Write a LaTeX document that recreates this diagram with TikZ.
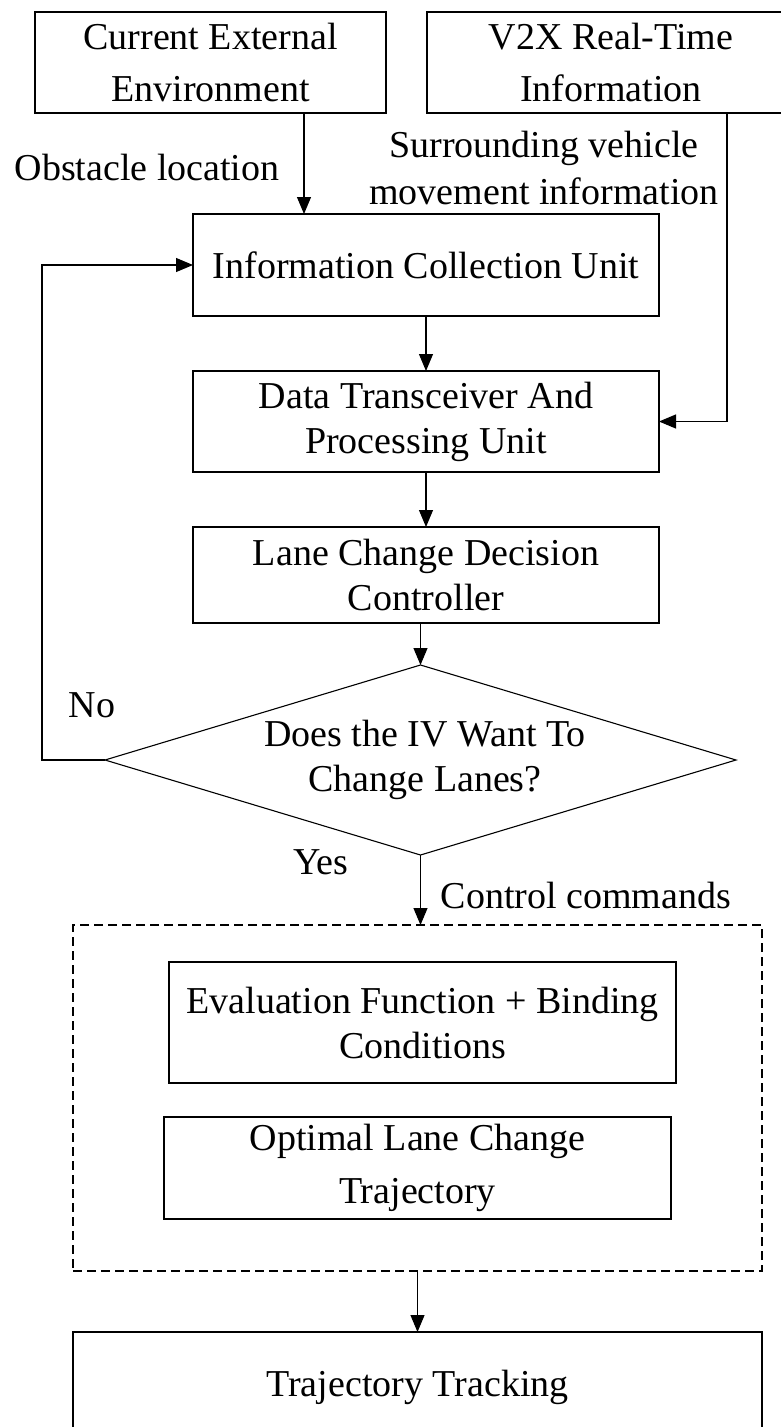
\documentclass[tikz,border=0pt]{standalone}
\usepackage{fontspec}
\setmainfont{Liberation Serif}
\usetikzlibrary{arrows.meta,shapes.geometric}
\begin{document}
\begin{tikzpicture}[x=1pt,y=-1pt,
  every node/.style={inner sep=0pt, outer sep=0pt},
  txt/.style={align=center, font=\fontsize{38}{45}\selectfont},
  wide/.style={align=center, font=\fontsize{38}{53}\selectfont},
  box/.style={draw, line width=1.1pt},
  arr/.style={-{Triangle[length=17pt,width=14pt]}, line width=1.1pt},
  ln/.style={line width=1.1pt}]
\useasboundingbox (0,0) rectangle (781,1427);

% input sources
\node[box, wide, minimum width=351pt, minimum height=101pt] (cee) at (210.5,62.5) {Current External\\Environment};
\node[box, wide, minimum width=368pt, minimum height=101pt] (v2x) at (611,62.5) {V2X Real-Time\\Information};

% processing chain
\node[box, txt, minimum width=466pt, minimum height=102pt] (icu) at (426,265) {Information Collection Unit};
\node[box, txt, minimum width=466pt, minimum height=101pt] (dtp) at (426,421.5) {Data Transceiver And\\Processing Unit};
\node[box, txt, minimum width=466pt, minimum height=96pt] (lcd) at (426,575) {Lane Change Decision\\Controller};

% decision
\node[diamond, draw, ln, minimum width=631pt, minimum height=190pt] (dec) at (420.5,760) {};
\node[txt] (dectxt) at (425,760) {Does the IV Want To\\Change Lanes?};

% trajectory planning group
\node[draw, ln, dash pattern=on 9pt off 5pt, minimum width=689pt, minimum height=346pt] (grp) at (417.5,1098) {};
\node[box, txt, minimum width=507pt, minimum height=121pt] (efb) at (422.5,1022.5) {Evaluation Function + Binding\\Conditions};
\node[box, wide, minimum width=507pt, minimum height=102pt] (olc) at (417.5,1168) {Optimal Lane Change\\Trajectory};

% output
\node[box, txt, minimum width=689pt, minimum height=110pt] (trk) at (417.5,1387) {Trajectory Tracking};

% labels
\node[txt] (lobs) at (147,167) {Obstacle location};
\node[txt, font=\fontsize{38}{47}\selectfont] (lsur) at (544,168) {Surrounding vehicle\\movement information};
\node[txt] (lno) at (92,705) {No};
\node[txt] (lyes) at (321,862) {Yes};
\node[txt] (lctl) at (586,895) {Control commands};

% connectors
\coordinate (ceeout) at (304,113);
\coordinate (v2xout) at (727,113);
\coordinate (loop) at (42,760);
\draw[arr] (ceeout) -- (ceeout |- icu.north);
\draw[arr] (v2xout) |- (dtp.east);
\draw[arr] (icu.south) -- (dtp.north);
\draw[arr] (dtp.south) -- (lcd.north);
\draw[arr] (lcd.south -| dec.north) -- (dec.north);
\draw[arr] (dec.west) -- (loop) |- (icu.west);
\draw[arr] (dec.south) -- (dec.south |- grp.north);
\draw[arr] (grp.south) -- (trk.north);
\end{tikzpicture}
\end{document}
